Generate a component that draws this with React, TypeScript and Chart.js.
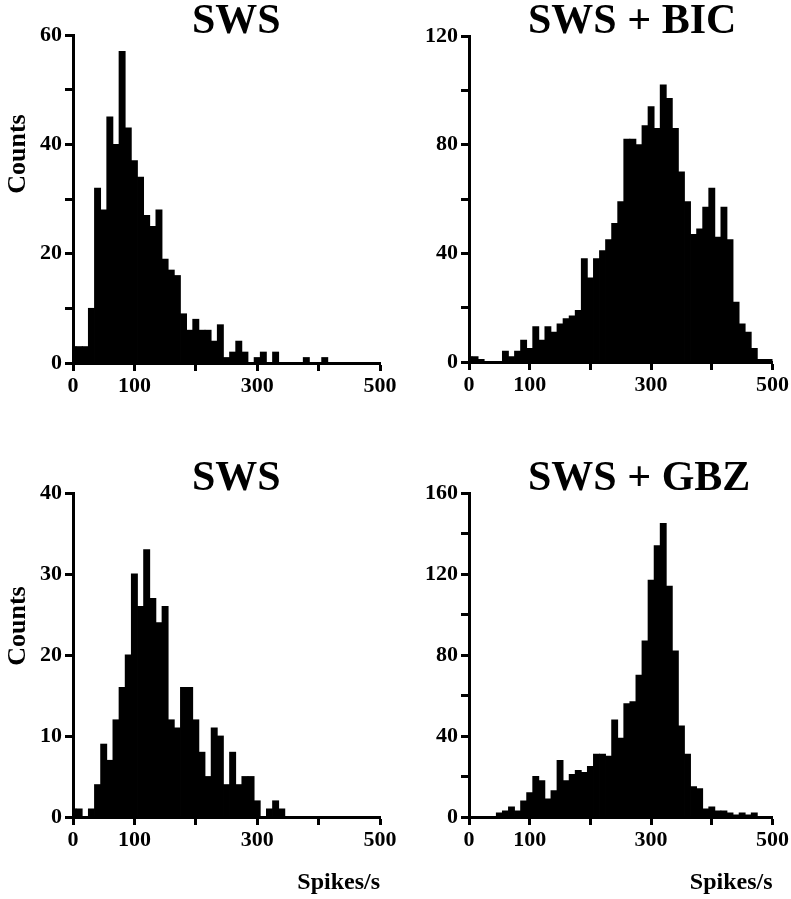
import React, { useEffect, useRef } from "react";
import { Chart, registerables } from "chart.js";

Chart.register(...registerables);

// Bin centres (spikes/s), bin width 10
const BIN_CENTERS = [
  0, 10, 20, 30, 40, 50, 60, 70, 80, 90,
  100, 110, 120, 130, 140, 150, 160, 170, 180, 190,
  200, 210, 220, 230, 240, 250, 260, 270, 280, 290,
  300, 310, 320, 330, 340, 350, 360, 370, 380, 390,
  400, 410, 420, 430, 440, 450, 460, 470, 480, 490, 500,
];

// Counts per bin
const SWS_TOP = [
  3, 3, 3, 10, 32, 28, 45, 40, 57, 43,
  37, 34, 27, 25, 28, 19, 17, 16, 9, 6,
  8, 6, 6, 4, 7, 1, 2, 4, 2, 0,
  1, 2, 0, 2, 0, 0, 0, 0, 1, 0,
  0, 1, 0, 0, 0, 0, 0, 0, 0, 0, 0,
];
const SWS_BIC = [
  2, 2, 1, 0, 0, 0, 4, 2, 4, 8,
  5, 13, 8, 13, 11, 14, 16, 17, 19, 38,
  31, 38, 41, 45, 51, 59, 82, 82, 80, 87,
  94, 86, 102, 97, 86, 70, 59, 47, 49, 57,
  64, 46, 57, 45, 22, 14, 11, 5, 1, 1, 1,
];
const SWS_BOTTOM = [
  1, 1, 0, 1, 4, 9, 7, 12, 16, 20,
  30, 26, 33, 27, 24, 26, 12, 11, 16, 16,
  12, 8, 5, 11, 10, 4, 8, 4, 5, 5,
  2, 0, 1, 2, 1, 0, 0, 0, 0, 0,
  0, 0, 0, 0, 0, 0, 0, 0, 0, 0, 0,
];
const SWS_GBZ = [
  0, 0, 0, 0, 0, 2, 3, 5, 3, 8,
  12, 20, 18, 9, 13, 28, 18, 21, 23, 22,
  25, 31, 31, 30, 48, 39, 56, 57, 70, 87,
  117, 134, 145, 114, 82, 45, 31, 15, 14, 4,
  5, 3, 3, 2, 1, 2, 1, 2, 0, 0, 0,
];

const X_TICK_LABELS = [0, 100, 300, 500];
const Y_LABELS_TL = [0, 20, 40, 60];
const Y_LABELS_TR = [0, 40, 80, 120];
const Y_LABELS_BL = [0, 10, 20, 30, 40];
const Y_LABELS_BR = [0, 40, 80, 120, 160];

const FONT = "'Liberation Serif', 'Times New Roman', Times, serif";

type Spec = {
  title: string;
  values: number[];
  yMax: number;
  yStep: number;
  yLabels: number[];
  left: number;
  top: number;
  w: number;
  h: number;
  yWidth: number;
  xHeight: number;
  padTop: number;
  padRight: number;
  titleX: number;
  titleY: number;
  yTitleY: number | null;
  xTitle: boolean;
};

const SPECS: Spec[] = [
  {
    title: "SWS", values: SWS_TOP, yMax: 60, yStep: 10, yLabels: Y_LABELS_TL,
    left: 0, top: 0, w: 400, h: 440, yWidth: 73, xHeight: 77, padTop: 35, padRight: 20,
    titleX: 192, titleY: 33, yTitleY: 154, xTitle: false,
  },
  {
    title: "SWS + BIC", values: SWS_BIC, yMax: 120, yStep: 20, yLabels: Y_LABELS_TR,
    left: 395, top: 0, w: 396, h: 440, yWidth: 74, xHeight: 78, padTop: 36, padRight: 18,
    titleX: 133, titleY: 33, yTitleY: null, xTitle: false,
  },
  {
    title: "SWS", values: SWS_BOTTOM, yMax: 40, yStep: 10, yLabels: Y_LABELS_BL,
    left: 0, top: 440, w: 400, h: 459, yWidth: 73, xHeight: 82, padTop: 53, padRight: 20,
    titleX: 192, titleY: 50, yTitleY: 186, xTitle: true,
  },
  {
    title: "SWS + GBZ", values: SWS_GBZ, yMax: 160, yStep: 20, yLabels: Y_LABELS_BR,
    left: 395, top: 440, w: 396, h: 459, yWidth: 74, xHeight: 82, padTop: 53, padRight: 18,
    titleX: 133, titleY: 50, yTitleY: null, xTitle: true,
  },
];

function Panel({ spec }: { spec: Spec }) {
  const ref = useRef<HTMLCanvasElement>(null);

  useEffect(() => {
    const canvas = ref.current;
    if (!canvas) return;

    const textPlugin = {
      id: "panelText",
      afterDraw(chart: any) {
        const c = chart.ctx;
        c.save();
        c.fillStyle = "#000";
        c.font = `bold 42px ${FONT}`;
        c.textAlign = "left";
        c.textBaseline = "alphabetic";
        c.fillText(spec.title, spec.titleX, spec.titleY);
        if (spec.yTitleY !== null) {
          c.font = `bold 26px ${FONT}`;
          c.translate(18, spec.yTitleY);
          c.rotate(-Math.PI / 2);
          c.textAlign = "center";
          c.textBaseline = "middle";
          c.fillText("Counts", 0, 0);
        }
        c.restore();
      },
    };

    const tickFont = { family: FONT, weight: "bold" as const, size: 22 };
    const titleFont = { family: FONT, weight: "bold" as const, size: 24 };

    const chart = new Chart(canvas, {
      type: "bar",
      data: {
        datasets: [
          {
            data: BIN_CENTERS.map((x, i) => ({ x, y: spec.values[i] })),
            backgroundColor: "#000",
            borderWidth: 0,
            barPercentage: 1,
            categoryPercentage: 1,
            inflateAmount: 0.4,
            clip: 0,
          } as any,
        ],
      },
      options: {
        responsive: false,
        animation: false,
        events: [],
        layout: {
          padding: { left: 0, right: spec.padRight, top: spec.padTop, bottom: 0 },
        },
        plugins: {
          legend: { display: false },
          tooltip: { enabled: false },
          title: { display: false },
        },
        scales: {
          x: {
            type: "linear",
            min: 0,
            max: 500,
            offset: false,
            grid: {
              offset: false,
              display: true,
              drawOnChartArea: false,
              drawTicks: true,
              tickLength: 8,
              tickWidth: 3,
              tickColor: "#000",
            },
            border: { display: true, width: 3, color: "#000" },
            ticks: {
              stepSize: 100,
              autoSkip: false,
              maxRotation: 0,
              color: "#000",
              font: tickFont,
              padding: 2,
              callback: (v: any) => (X_TICK_LABELS.includes(Number(v)) ? String(v) : ""),
            },
            title: {
              display: spec.xTitle,
              text: "Spikes/s",
              align: "end",
              color: "#000",
              font: titleFont,
              padding: { top: 0, bottom: 2 },
            },
            afterFit: (s: any) => {
              s.height = spec.xHeight;
            },
          } as any,
          y: {
            type: "linear",
            min: 0,
            max: spec.yMax,
            grid: {
              display: true,
              drawOnChartArea: false,
              drawTicks: true,
              tickLength: 8,
              tickWidth: 3,
              tickColor: "#000",
            },
            border: { display: true, width: 3, color: "#000" },
            ticks: {
              stepSize: spec.yStep,
              autoSkip: false,
              color: "#000",
              font: tickFont,
              padding: 3,
              callback: (v: any) => (spec.yLabels.includes(Number(v)) ? String(v) : ""),
            },
            afterFit: (s: any) => {
              s.width = spec.yWidth;
            },
          } as any,
        },
      },
      plugins: [textPlugin],
    });

    return () => chart.destroy();
  }, [spec]);

  return (
    <canvas
      ref={ref}
      width={spec.w}
      height={spec.h}
      style={{ position: "absolute", left: spec.left, top: spec.top, width: spec.w, height: spec.h }}
    />
  );
}

export default function App() {
  return (
    <div
      style={{
        position: "absolute",
        left: 0,
        top: 0,
        width: 791,
        height: 899,
        background: "#fff",
        overflow: "hidden",
      }}
    >
      {SPECS.map((s, i) => (
        <Panel key={i} spec={s} />
      ))}
    </div>
  );
}
